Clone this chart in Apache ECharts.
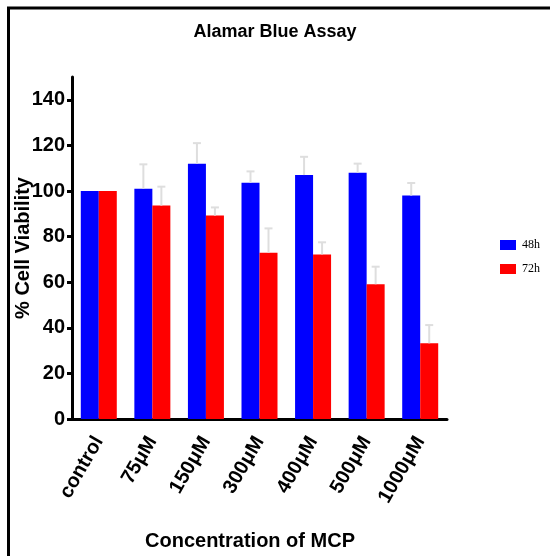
<!DOCTYPE html>
<html>
<head>
<meta charset="utf-8">
<script src="https://cdn.jsdelivr.net/npm/echarts@6/dist/echarts.min.js"></script>
<style>
  html, body { margin: 0; padding: 0; background: #fff; overflow: hidden; }
  #chart { width: 550px; height: 556px; }
</style>
</head>
<body>
<div id="chart"></div>
<script>
// Alamar Blue viability by MCP concentration, mean + upper SD
const categories = ['control', '75\u03bcM', '150\u03bcM', '300\u03bcM', '400\u03bcM', '500\u03bcM', '1000\u03bcM'];
const viability48h = [100, 101, 112, 103.6, 107, 108, 98];
const viability72h = [100, 93.6, 89.2, 72.9, 72.2, 59.1, 33.2];
const sd48h = [0, 10.7, 9, 5, 8, 4, 5.5];
const sd72h = [0, 8.3, 3.6, 10.7, 5.3, 7.7, 8];
const yTicks = [0, 20, 40, 60, 80, 100, 120, 140];

const BAR_W = 18;
const FONT = '"Liberation Sans", Arial, sans-serif';

// one-sided (upward) error bars with a short cap
function errorSeries(name, values, errs, offset) {
  return {
    type: 'custom',
    name: name + ' SD',
    z: 5,
    silent: true,
    data: values.map((v, i) => [i, v, errs[i]]),
    renderItem(params, api) {
      const i = api.value(0);
      const v = api.value(1);
      const e = api.value(2);
      if (!e) return null;
      const base = api.coord([i, v]);
      const top = api.coord([i, v + e]);
      const x = base[0] + offset;
      const style = { stroke: '#dedede', lineWidth: 2 };
      return {
        type: 'group',
        children: [
          { type: 'line', shape: { x1: x, y1: base[1], x2: x, y2: top[1] }, style },
          { type: 'line', shape: { x1: x - 4, y1: top[1], x2: x + 4, y2: top[1] }, style }
        ]
      };
    }
  };
}

const chart = echarts.init(document.getElementById('chart'));
chart.setOption({
  backgroundColor: '#fff',
  animation: false,
  title: {
    text: 'Alamar Blue Assay',
    left: 270,
    textAlign: 'center',
    top: 18,
    textStyle: { fontFamily: FONT, fontSize: 18, fontWeight: 'bold', color: '#000' }
  },
  legend: {
    orient: 'vertical',
    left: 500,
    top: 239,
    padding: 0,
    itemWidth: 16,
    itemHeight: 10,
    itemGap: 12,
    icon: 'rect',
    data: ['48h', '72h'],
    textStyle: { fontFamily: '"Liberation Serif", "Times New Roman", serif', fontSize: 12, color: '#000', padding: [0, 0, 0, 1] }
  },
  grid: { left: 72, right: 103, top: 77, bottom: 137, containLabel: false, outerBoundsMode: 'none' },
  xAxis: {
    type: 'category',
    data: categories,
    name: 'Concentration of MCP',
    nameLocation: 'middle',
    nameGap: 112,
    nameMoveOverlap: false,
    nameTextStyle: { fontFamily: FONT, fontSize: 20, fontWeight: 'bold', color: '#000', padding: [0, 19, 0, 0] },
    axisLine: { lineStyle: { color: '#000', width: 3 } },
    axisTick: { alignWithLabel: true, length: 6, lineStyle: { color: '#000', width: 3 } },
    axisLabel: {
      rotate: 60,
      margin: 19,
      interval: 0,
      fontFamily: FONT,
      fontSize: 20,
      fontWeight: 'bold',
      color: '#000'
    }
  },
  yAxis: {
    type: 'value',
    min: 0,
    max: 150,
    interval: 10,
    name: '% Cell Viability',
    nameLocation: 'middle',
    nameGap: 39,
    nameMoveOverlap: false,
    nameTextStyle: { fontFamily: FONT, fontSize: 20, fontWeight: 'bold', color: '#000' },
    splitLine: { show: false },
    axisLine: { show: true, lineStyle: { color: '#000', width: 3 } },
    axisTick: { show: true, customValues: yTicks, length: 5, lineStyle: { color: '#000', width: 3 } },
    axisLabel: {
      customValues: yTicks,
      margin: 7,
      fontFamily: FONT,
      fontSize: 20,
      fontWeight: 'bold',
      color: '#000'
    }
  },
  series: [
    {
      name: '48h',
      type: 'bar',
      data: viability48h,
      barWidth: BAR_W,
      barGap: '0%',
      itemStyle: { color: '#0000ff' }
    },
    {
      name: '72h',
      type: 'bar',
      data: viability72h,
      barWidth: BAR_W,
      barGap: '0%',
      itemStyle: { color: '#ff0000' }
    },
    errorSeries('48h', viability48h, sd48h, -BAR_W / 2),
    errorSeries('72h', viability72h, sd72h, BAR_W / 2)
  ],
  graphic: [
    {
      type: 'polyline',
      silent: true,
      shape: { points: [[550, 8], [8.5, 8], [8.5, 556]] },
      style: { stroke: '#000', lineWidth: 3, fill: null }
    }
  ]
});
</script>
</body>
</html>
